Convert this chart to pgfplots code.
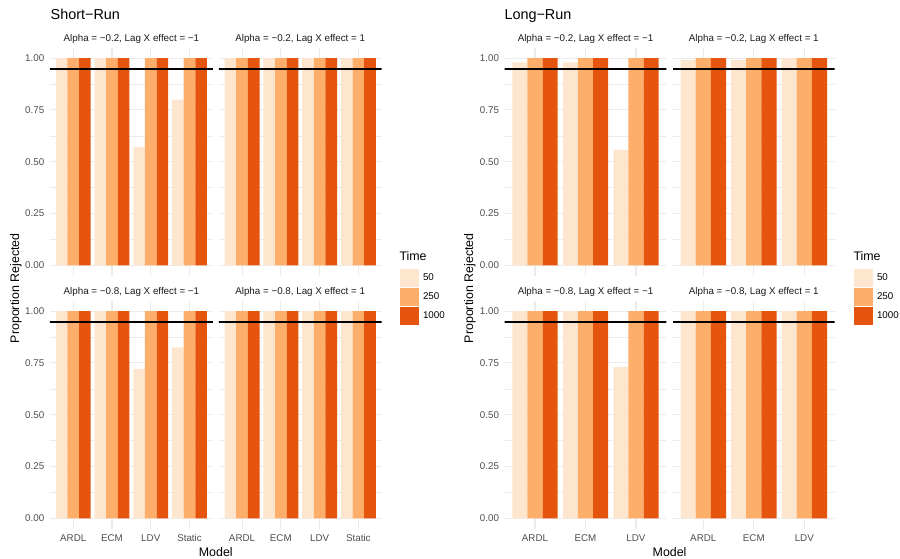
\documentclass[border=0pt]{standalone}
\usepackage{pgfplots}
\pgfplotsset{compat=1.18}
\usepackage{pgfplotstable}
\usepackage{fontspec}
\setmainfont{Liberation Sans}
\definecolor{cA}{HTML}{FEE6CE}
\definecolor{cB}{HTML}{FDAE6B}
\definecolor{cC}{HTML}{E6550D}
\definecolor{grid92}{HTML}{EBEBEB}
\definecolor{grey30}{HTML}{4D4D4D}
\definecolor{grey10}{HTML}{1A1A1A}

% Short-Run facets
\pgfplotstableread{
x a b c
1 1.00 1 1
2 1.00 1 1
3 0.57 1 1
4 0.80 1 1
}\srTL
\pgfplotstableread{
x a b c
1 1.00 1 1
2 1.00 1 1
3 1.00 1 1
4 1.00 1 1
}\srTR
\pgfplotstableread{
x a b c
1 1.00 1 1
2 1.00 1 1
3 0.72 1 1
4 0.825 1 1
}\srBL
\pgfplotstableread{
x a b c
1 1.00 1 1
2 1.00 1 1
3 1.00 1 1
4 1.00 1 1
}\srBR
% Long-Run facets
\pgfplotstableread{
x a b c
1 0.98 1 1
2 0.98 1 1
3 0.557 1 1
}\lrTL
\pgfplotstableread{
x a b c
1 0.99 1 1
2 0.99 1 1
3 1.00 1 1
}\lrTR
\pgfplotstableread{
x a b c
1 1.00 1 1
2 1.00 1 1
3 0.73 1 1
}\lrBL
\pgfplotstableread{
x a b c
1 1.00 1 1
2 1.00 1 1
3 1.00 1 1
}\lrBR

\newcommand\fs[1]{\fontsize{#1}{#1}\selectfont}

\pgfplotsset{
 facet/.style={
  scale only axis, anchor=south west, height=227.9pt,
  clip mode=individual,
  ymin=-0.05, ymax=1.05,
  ytick={0,0.25,0.5,0.75,1},
  yticklabels={0.00,0.25,0.50,0.75,1.00},
  minor ytick={0.125,0.375,0.625,0.875},
  ymajorgrids, yminorgrids, xmajorgrids,
  major grid style={draw=grid92, line width=1.07pt},
  minor grid style={draw=grid92, line width=0.53pt},
  axis line style={draw=none},
  major tick style={draw=none}, minor tick style={draw=none},
  ticklabel style={font=\fs{9.8}, text=grey30, inner sep=0pt},
  yticklabel style={anchor=east, xshift=-5.5pt},
  xticklabel style={anchor=base, yshift=-12.8pt},
 },
 sr/.style={facet, width=162.8pt, xmin=0.4, xmax=4.6, xtick={1,2,3,4}, xticklabels={ARDL,ECM,LDV,Static}},
 lr/.style={facet, width=161.6pt, xmin=0.4, xmax=3.6, xtick={1,2,3}, xticklabels={ARDL,ECM,LDV}},
 nox/.style={xticklabels={}},
 noy/.style={yticklabels={}},
 leg/.style={
  legend style={at={(1,0)}, anchor=north west, xshift=#1, yshift=6.7pt,
   draw=none, fill=none, inner sep=0pt, row sep=1pt, column sep=2.5pt,
   font=\fs{9.8}, cells={anchor=west}},
  legend image code/.code={\fill[##1] (0pt,-9pt) rectangle (18.3pt,9pt);},
 },
}

\newcommand\bars[1]{%
 \addplot[ybar, bar width=0.3, bar shift=-0.3, fill=cA, draw=none] table[x=x,y=a]{#1};
 \addplot[ybar, bar width=0.3, bar shift=0, fill=cB, draw=none] table[x=x,y=b]{#1};
 \addplot[ybar, bar width=0.3, bar shift=0.3, fill=cC, draw=none] table[x=x,y=c]{#1};
 \addplot[black, line width=2pt] coordinates {(0,0.95) (5,0.95)};
}
\newcommand\strip[1]{\node[font=\fs{9.8}, text=grey10, inner sep=0pt] at (rel axis cs:0.5,1) [yshift=8.8pt] {#1};}

\begin{document}
\begin{tikzpicture}
\path[use as bounding box] (0,0) rectangle (900pt,558pt);

% ---------- Short-Run ----------
\begin{axis}[sr, nox, at={(50pt,282.3pt)}]
 \bars{\srTL}
 \strip{Alpha = −0.2, Lag X effect = −1}
\end{axis}
\begin{axis}[sr, nox, noy, at={(218.8pt,282.3pt)}, leg=18.4pt]
 \bars{\srTR}
 \strip{Alpha = −0.2, Lag X effect = 1}
 \legend{50,250,1000}
\end{axis}
\begin{axis}[sr, at={(50pt,29.3pt)}]
 \bars{\srBL}
 \strip{Alpha = −0.8, Lag X effect = −1}
\end{axis}
\begin{axis}[sr, noy, at={(218.8pt,29.3pt)}]
 \bars{\srBR}
 \strip{Alpha = −0.8, Lag X effect = 1}
\end{axis}

% ---------- Long-Run ----------
\begin{axis}[lr, nox, at={(504.7pt,282.3pt)}]
 \bars{\lrTL}
 \strip{Alpha = −0.2, Lag X effect = −1}
\end{axis}
\begin{axis}[lr, nox, noy, at={(673pt,282.3pt)}, leg=19.4pt]
 \bars{\lrTR}
 \strip{Alpha = −0.2, Lag X effect = 1}
 \legend{50,250,1000}
\end{axis}
\begin{axis}[lr, at={(504.7pt,29.3pt)}]
 \bars{\lrBL}
 \strip{Alpha = −0.8, Lag X effect = −1}
\end{axis}
\begin{axis}[lr, noy, at={(673pt,29.3pt)}]
 \bars{\lrBR}
 \strip{Alpha = −0.8, Lag X effect = 1}
\end{axis}

% ---------- titles and labels ----------
\node[anchor=base west, font=\fs{14.4}, inner sep=0pt] at (50.5pt,538.7pt) {Short−Run};
\node[anchor=base west, font=\fs{14.4}, inner sep=0pt] at (504.3pt,538.7pt) {Long−Run};
\node[rotate=90, font=\fs{12.4}, inner sep=0pt] at (16pt,269.7pt) {Proportion Rejected};
\node[rotate=90, font=\fs{12.4}, inner sep=0pt] at (470pt,269.7pt) {Proportion Rejected};
\node[anchor=base, font=\fs{12.4}, inner sep=0pt] at (215.8pt,2pt) {Model};
\node[anchor=base, font=\fs{12.4}, inner sep=0pt] at (669.6pt,2pt) {Model};
\node[anchor=base west, font=\fs{12.4}, inner sep=0pt] at (399.3pt,298pt) {Time};
\node[anchor=base west, font=\fs{12.4}, inner sep=0pt] at (853.3pt,298pt) {Time};
\end{tikzpicture}
\end{document}
